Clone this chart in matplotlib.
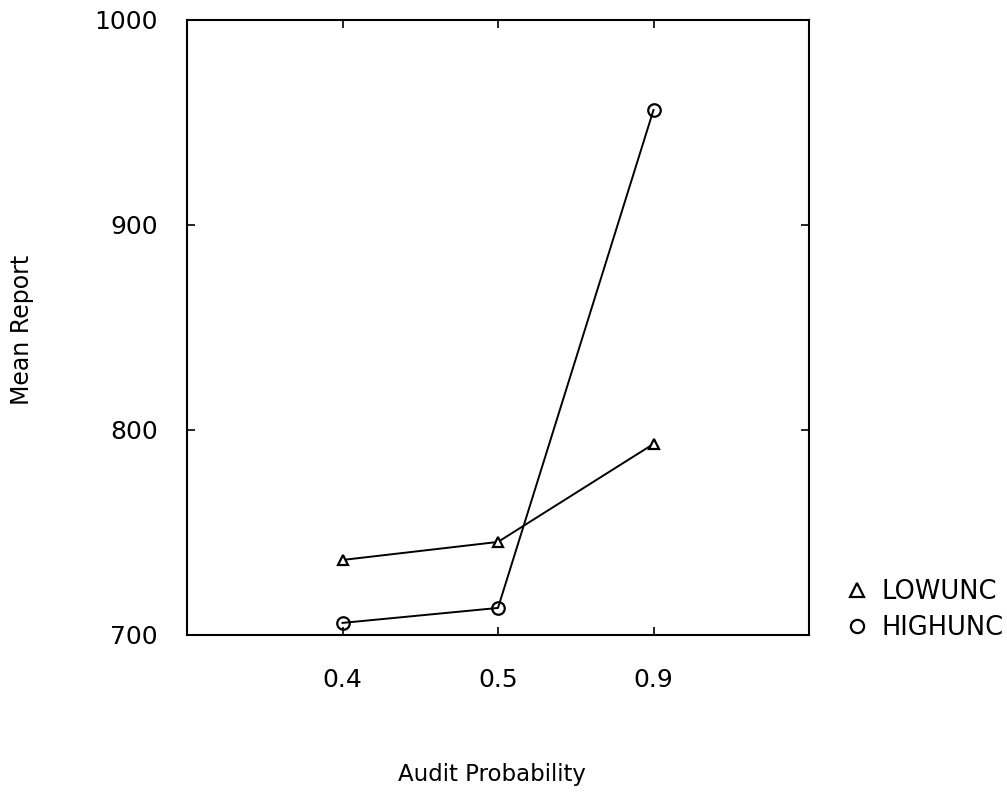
import matplotlib
matplotlib.use("Agg")
import matplotlib.pyplot as plt

categories = ["0.4", "0.5", "0.9"]
lowunc = [736.6, 745.4, 793.2]
highunc = [705.9, 713.2, 956.1]
yticks = [700, 800, 900, 1000]

plt.rcParams['font.family'] = ['DejaVu Sans']

W, H = 1007, 797
fig = plt.figure(figsize=(W / 100, H / 100), dpi=100)
L, R, T, B = 187, 809, 20, 635
ax = fig.add_axes([L / W, 1 - B / H, (R - L) / W, (B - T) / H])

x = [1, 2, 3]
ax.plot(x, lowunc, color='black', lw=1.4, marker='^', markersize=7.5,
        markerfacecolor='white', markeredgecolor='black', markeredgewidth=1.6, label='LOWUNC')
ax.plot(x, highunc, color='black', lw=1.4, marker='o', markersize=9,
        markerfacecolor='none', markeredgecolor='black', markeredgewidth=1.6, label='HIGHUNC')

ax.set_xlim(0, 4)
ax.set_ylim(700, 1000)
ax.set_xticks(x)
ax.set_xticklabels(categories)
ax.set_yticks(yticks)
ax.set_yticklabels([str(v) for v in yticks])
ax.tick_params(direction='in', length=6, width=1.2, top=True, right=True,
               labelsize=18)
ax.tick_params(axis='y', pad=21)
ax.tick_params(axis='x', pad=24)
for s in ax.spines.values():
    s.set_linewidth(1.5)

ax.set_xlabel("Audit Probability", fontsize=16.5, va='center', ha='center')
ax.xaxis.set_label_coords((492 - L) / (R - L), (B - 775) / (B - T))
ax.set_ylabel("Mean Report", fontsize=17, va='center', ha='center')
ax.yaxis.set_label_coords((22 - L) / (R - L), (B - 330) / (B - T))

leg = ax.legend(loc='center left', bbox_to_anchor=(844 / W, 1 - 610 / H),
                bbox_transform=fig.transFigure, frameon=False,
                fontsize=18.5, handlelength=1.0, handletextpad=0.45,
                labelspacing=0.4, borderpad=0, borderaxespad=0)
for h in leg.legend_handles:
    h.set_linestyle('none')
    h.set_markersize(9.5)

fig.savefig("out.png", dpi=100, facecolor='white')
